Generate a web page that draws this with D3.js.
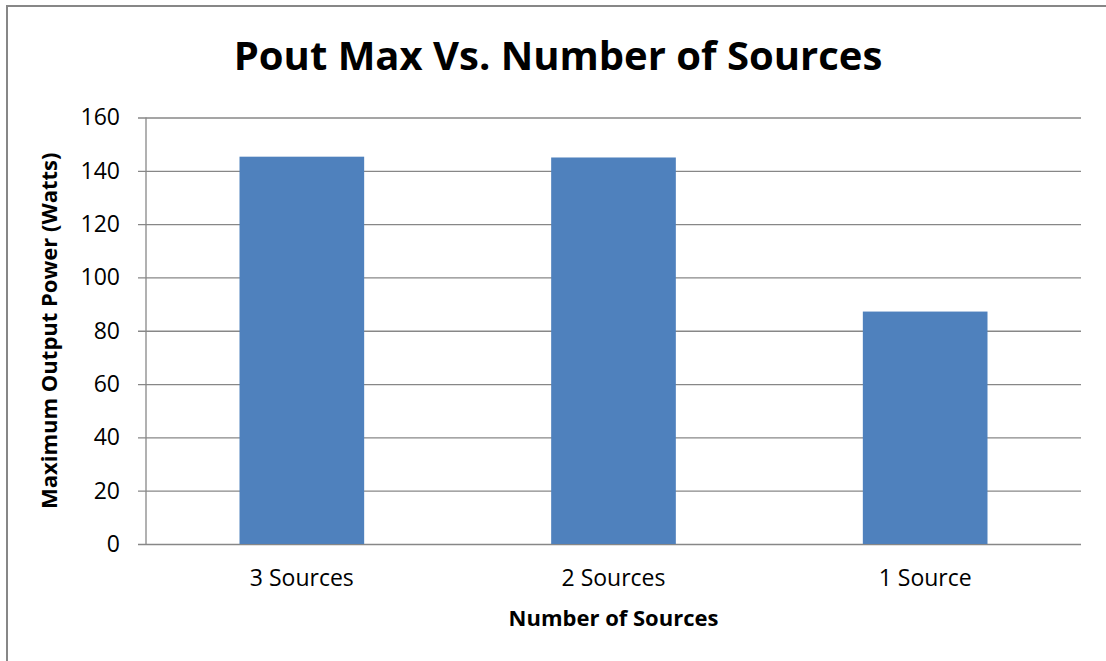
<!DOCTYPE html>
<meta charset="utf-8">
<title>Pout Max Vs. Number of Sources</title>
<style>
body { margin: 0; background: #fff; }
svg { display: block; }
.tick text { font-family: "Open Sans", sans-serif; font-size: 23px; fill: #000; }
.grid line { stroke: #878787; stroke-width: 1.3px; }
</style>
<svg width="1106" height="661"></svg>
<script src="https://d3js.org/d3.v7.min.js"></script>
<script>
// values
var categories = ["3 Sources", "2 Sources", "1 Source"]
var poutMax = [145.3, 145.0, 87.2]
var yTicks = [0, 20, 40, 60, 80, 100, 120, 140, 160]

var svg = d3.select("svg"),
	width = +svg.attr("width"),
	height = +svg.attr("height")

var margin = {top: 117.5, right: 25, bottom: 117, left: 146}
var plotW = width - margin.left - margin.right,
	plotH = height - margin.top - margin.bottom

// outer chart border
svg.append("rect")
	.attr("x", 7).attr("y", 6)
	.attr("width", width).attr("height", height)
	.attr("fill", "none")
	.attr("stroke", "#878787")
	.attr("stroke-width", 2)

var x = d3.scaleBand().domain(categories).range([0, plotW]).paddingInner(0.6).paddingOuter(0.3)
var y = d3.scaleLinear().domain([0, 160]).range([plotH, 0])

var g = svg.append("g").attr("transform", "translate(" + margin.left + "," + margin.top + ")")

// gridlines + y labels
var yAxis = g.append("g").attr("class", "grid")
	.call(d3.axisLeft(y).tickValues(yTicks).tickSize(-plotW - 8).tickPadding(18).tickFormat(d3.format("d")))
	.attr("transform", "translate(-8,0)")
yAxis.select(".domain").remove()

// left axis line
g.append("line")
	.attr("x1", 0).attr("x2", 0)
	.attr("y1", 0).attr("y2", plotH)
	.attr("stroke", "#878787").attr("stroke-width", 1.3)

g.selectAll("rect.bar")
	.data(poutMax)
	.enter().append("rect")
		.attr("class", "bar")
		.attr("x", function(d, i) { return x(categories[i]) })
		.attr("y", function(d) { return y(d) })
		.attr("width", x.bandwidth())
		.attr("height", function(d) { return plotH - y(d) })
		.attr("fill", "#4F81BD")

var xAxis = g.append("g")
	.attr("transform", "translate(0," + plotH + ")")
	.call(d3.axisBottom(x).tickSize(0).tickPadding(26))
xAxis.select(".domain").remove()

// titles
svg.append("text")
	.attr("x", 558).attr("y", 70)
	.attr("text-anchor", "middle")
	.style("font-family", "'Open Sans', sans-serif")
	.style("font-weight", "bold")
	.style("font-size", "40px")
	.text("Pout Max Vs. Number of Sources")

svg.append("text")
	.attr("x", margin.left + plotW / 2).attr("y", 626)
	.attr("text-anchor", "middle")
	.style("font-family", "'Open Sans', sans-serif")
	.style("font-weight", "bold")
	.style("font-size", "22px")
	.text("Number of Sources")

svg.append("text")
	.attr("transform", "translate(57," + (margin.top + plotH / 2) + ") rotate(-90)")
	.attr("text-anchor", "middle")
	.style("font-family", "'Open Sans', sans-serif")
	.style("font-weight", "bold")
	.style("font-size", "22px")
	.text("Maximum Output Power (Watts)")
</script>
